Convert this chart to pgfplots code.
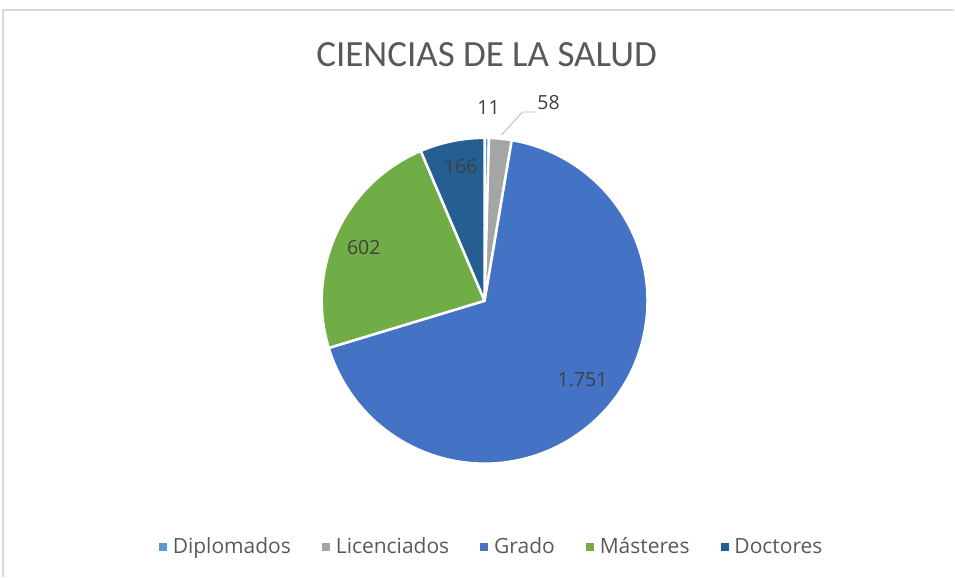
\documentclass[border=0pt]{standalone}
\usepackage{pgfplots}
\usepackage{pgfplotstable}
\pgfplotsset{compat=1.18}
\usepackage{fontspec}
\setmainfont{Open Sans}
\newfontfamily\titlefont{Carlito}

\definecolor{c0}{HTML}{5B9BD5}
\definecolor{c1}{HTML}{A5A5A5}
\definecolor{c2}{HTML}{4472C4}
\definecolor{c3}{HTML}{70AD47}
\definecolor{c4}{HTML}{255E91}
\definecolor{txt}{HTML}{404040}
\definecolor{leg}{HTML}{595959}
\definecolor{frame}{HTML}{D9D9D9}

\pgfplotstableread{
label value
Diplomados 11
Licenciados 58
Grado 1751
Masteres 602
Doctores 166
}\piedata

\begin{document}
\begin{tikzpicture}
% total and slice angles (Excel style: start at 12 o'clock, clockwise)
\xdef\total{0}
\foreach \i in {0,...,4}{
  \pgfplotstablegetelem{\i}{value}\of\piedata
  \pgfmathsetmacro\tmp{\total+\pgfplotsretval}
  \xdef\total{\tmp}
}
\xdef\cum{0}
\foreach \i in {0,...,4}{
  \pgfplotstablegetelem{\i}{value}\of\piedata
  \pgfmathsetmacro\s{90-360*(\cum/\total)}
  \pgfmathsetmacro\newcum{\cum+\pgfplotsretval}
  \pgfmathsetmacro\e{90-360*(\newcum/\total)}
  \expandafter\xdef\csname sa\i\endcsname{\s}
  \expandafter\xdef\csname ea\i\endcsname{\e}
  \xdef\cum{\newcum}
}
\begin{axis}[
  x=1pt, y=1pt,
  xmin=0, xmax=955, ymin=0, ymax=577,
  hide axis, clip=false, scale only axis,
  legend columns=5,
  legend image code/.code={\fill[#1, draw=none] (0pt,-4pt) rectangle (8pt,4pt);},
  legend style={at={(axis cs:492,30)}, anchor=center, draw=none, fill=none,
    font=\fontsize{21}{25}\selectfont, text=leg,
    /tikz/every even column/.append style={column sep=29pt},
    /tikz/every odd column/.append style={column sep=4pt}},
  ]
  % page box
  \path (axis cs:0,0) rectangle (axis cs:955,577);
  % chart frame
  \draw[frame, line width=1.5pt] (axis cs:3,0) -- (axis cs:3,567) -- (axis cs:955,567);
  % title
  \node[text=leg, font=\titlefont\fontsize{37}{44}\selectfont] at (axis cs:487,522) {CIENCIAS DE LA SALUD};
  % slices
  \pgfplotsinvokeforeach{0,...,4}{
    \filldraw[fill=c#1, draw=white, line width=2.5pt, line join=round]
      (axis cs:485,276) -- ++(\csname sa#1\endcsname:163pt)
      arc[start angle=\csname sa#1\endcsname, end angle=\csname ea#1\endcsname, radius=163pt] -- cycle;
  }
  % data labels
  \begin{scope}[every node/.style={text=txt, font=\fontsize{19.5}{23}\selectfont}]
    \node at (axis cs:461,410) {166};
    \node at (axis cs:364,329) {602};
    \node at (axis cs:583,197) {1.751};
    \node at (axis cs:489,469) {11};
    \node at (axis cs:549,474) {58};
  \end{scope}
  \draw[c1!80, line width=0.8pt] (axis cs:502,442) -- (axis cs:523,465) -- (axis cs:537,465);
  % legend
  \addlegendimage{fill=c0}\addlegendentry{Diplomados}
  \addlegendimage{fill=c1}\addlegendentry{Licenciados}
  \addlegendimage{fill=c2}\addlegendentry{Grado}
  \addlegendimage{fill=c3}\addlegendentry{Másteres}
  \addlegendimage{fill=c4}\addlegendentry{Doctores}
\end{axis}
\end{tikzpicture}
\end{document}
